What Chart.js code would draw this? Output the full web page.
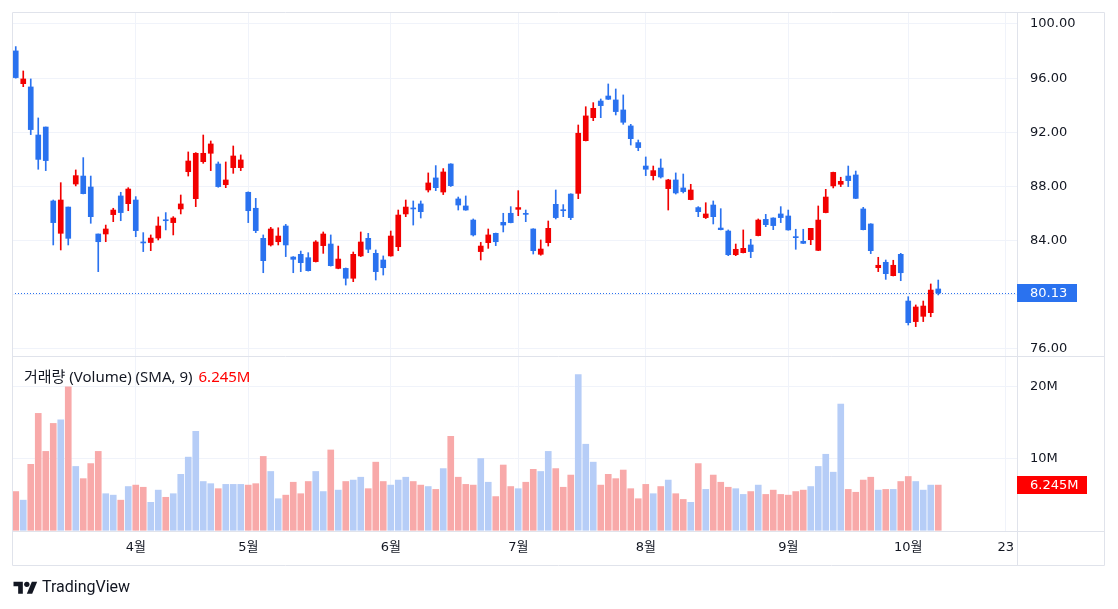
<!DOCTYPE html>
<html lang="ko">
<head>
<meta charset="UTF-8">
<title>주가 차트 – 거래량</title>
<script src="https://cdn.jsdelivr.net/npm/chart.js"></script>
<style>
  body { margin: 0; background: #fff; font-family: "DejaVu Sans", "Noto Sans CJK KR", sans-serif; }
  .wrap { position: relative; width: 1118px; height: 609px; }
  canvas { position: absolute; left: 0; top: 0; }
  .legend { position: absolute; left: 24px; top: 366px; font-family: "Noto Sans", "Noto Sans CJK KR", sans-serif; font-size: 15px; color: #131722; line-height: 21px; }
  .legend .val { color: #f00; margin-left: 6px; }
  .brand { position: absolute; left: 13px; top: 577px; font-family: Roboto, sans-serif; font-size: 16px; color: #131722; display: flex; align-items: center; gap: 4px; }
</style>
</head>
<body>
<div class="wrap">
  <canvas id="chart" width="1118" height="609"></canvas>
  <div class="legend">거래량 (Volume) (SMA, 9)<span class="val">6.245M</span></div>
  <div class="brand">
    <svg width="25" height="16" viewBox="0 0 36 24"><path d="M14 22H7V11H0V4h14v18z" fill="#131722"/><circle cx="20" cy="8" r="4" fill="#131722"/><path d="M28 22h-8l7.5-18h8L28 22z" fill="#131722"/></svg>
    <span>TradingView</span>
  </div>
</div>

<script>
// 일봉 시가/고가/저가/종가
const opens = [98.01,95.59,95.35,91.80,92.39,86.93,84.54,86.48,88.18,88.77,87.96,84.49,84.49,85.92,87.30,86.73,87.00,83.83,83.86,84.19,
  85.47,85.33,86.34,89.09,87.10,89.83,90.45,89.66,88.13,89.39,89.39,87.57,86.39,84.17,83.68,83.92,85.08,82.79,82.99,82.74,
  82.45,83.63,83.75,81.95,81.95,81.22,82.87,84.17,83.06,82.57,82.87,83.55,85.97,86.34,86.71,87.74,88.63,87.59,89.66,87.08,
  86.56,85.52,83.19,83.85,84.54,85.35,86.02,86.31,85.94,84.86,82.99,83.85,86.68,86.21,87.44,87.49,91.38,93.08,94.31,94.68,
  94.39,93.65,92.47,91.24,89.51,88.80,89.36,87.84,88.48,87.89,87.03,86.44,85.70,86.63,84.93,84.71,82.96,83.11,83.68,84.37,
  85.57,85.67,85.97,85.82,84.22,83.95,84.07,83.28,86.07,88.04,88.16,88.77,88.85,86.34,85.23,82.00,82.40,81.41,82.99,79.54,
  78.02,78.41,78.68,80.43];
const highs = [98.33,96.53,95.94,93.06,92.39,87.00,88.28,86.48,89.22,90.13,88.77,84.49,85.15,86.39,87.57,87.91,87.25,84.59,84.42,85.75,
  86.07,85.77,87.37,90.55,90.50,91.80,91.36,89.81,89.81,90.99,90.33,87.60,87.12,84.42,84.98,84.95,85.20,82.82,83.23,83.11,
  84.00,84.64,84.42,83.60,81.98,83.16,84.64,84.54,83.31,82.87,84.71,86.26,87.00,86.93,86.93,89.00,89.54,89.32,89.68,87.22,
  87.30,85.60,83.87,84.86,84.56,86.02,86.51,87.69,86.26,84.88,84.05,85.45,87.74,86.66,87.46,92.54,93.89,94.19,94.46,95.57,
  95.20,94.76,92.59,91.43,90.18,89.51,90.03,88.53,89.00,88.92,88.16,86.51,86.80,86.93,86.36,84.79,83.75,84.79,84.10,85.60,
  85.94,85.69,86.51,86.26,84.84,84.84,84.91,86.56,87.79,89.06,88.68,89.51,89.14,86.46,85.25,82.77,82.57,82.55,83.06,79.86,
  79.25,79.54,80.80,81.09];
const lows = [96.00,95.37,91.83,89.27,89.17,83.68,83.31,83.68,88.04,87.45,85.28,81.71,83.92,85.40,85.47,86.21,84.29,83.19,83.26,84.05,
  84.79,84.42,85.97,88.77,86.51,89.71,89.17,87.94,87.91,88.97,89.17,85.33,84.59,81.63,83.60,83.68,82.82,81.63,81.71,81.75,
  82.42,83.06,82.12,81.92,80.72,80.97,82.82,83.11,81.09,81.46,82.85,83.26,85.77,85.15,85.67,87.59,87.69,87.40,88.00,86.26,
  86.24,84.34,82.57,83.43,83.63,84.64,85.31,85.84,85.40,83.01,82.92,83.60,85.60,85.77,85.55,87.10,91.36,92.86,93.08,94.42,
  93.28,92.59,91.06,90.64,88.80,88.48,88.62,86.26,87.44,87.52,87.01,85.77,85.63,85.23,84.79,82.89,82.89,83.09,82.74,84.35,
  85.03,84.81,85.33,84.77,83.36,83.78,83.70,83.26,86.05,87.89,87.99,87.99,87.10,84.79,83.04,81.71,81.14,81.39,81.04,77.77,
  77.65,78.02,78.38,79.99];
const closes = [96.04,95.94,92.20,90.00,89.91,85.33,87.00,84.17,88.80,87.47,85.77,83.92,84.86,86.26,86.07,87.81,84.74,83.83,84.19,85.08,
  85.47,85.67,86.71,89.88,90.45,90.45,91.14,87.99,88.48,90.25,89.96,86.21,84.74,82.52,84.86,84.34,83.68,82.62,82.37,81.78,
  83.90,84.49,82.15,82.64,81.22,82.99,83.90,83.36,81.71,82.00,84.34,85.89,86.48,86.34,86.14,88.26,87.91,89.07,88.06,86.63,
  86.26,84.42,83.60,84.42,83.92,85.15,85.33,86.44,85.94,83.26,83.38,84.91,85.70,86.21,85.70,91.93,93.21,93.77,93.97,94.44,
  93.53,92.74,91.53,90.87,89.27,89.17,88.70,88.48,87.52,87.62,87.74,86.14,85.97,85.77,84.81,82.96,83.36,83.43,83.19,85.52,
  85.18,85.11,85.70,84.79,84.22,83.80,84.91,85.52,87.22,89.04,88.38,88.43,87.12,84.81,83.26,82.18,81.56,82.18,81.63,77.94,
  79.10,79.17,80.35,80.13];
// 거래량 (백만주)
const volumes = [5.4,4.2,9.2,16.3,11.0,14.9,15.4,20.0,8.9,7.2,9.3,11.0,5.1,4.9,4.2,6.1,6.3,6.0,3.9,5.6,
  4.6,5.1,7.8,10.2,13.8,6.8,6.5,5.8,6.4,6.4,6.4,6.3,6.5,10.3,8.2,4.4,4.9,6.7,5.1,6.8,
  8.2,5.4,11.2,5.6,6.8,7.0,7.4,5.8,9.5,6.8,6.3,7.0,7.4,6.8,6.3,6.1,5.7,8.6,13.1,7.4,
  6.4,6.3,10.0,6.7,4.7,9.1,6.1,5.8,6.7,8.5,8.2,11.0,8.6,6.0,7.7,21.7,12.0,9.5,6.3,7.8,
  7.2,8.4,5.8,4.4,6.4,5.1,6.1,7.0,5.1,4.3,3.9,9.3,5.7,7.7,6.7,6.0,5.8,5.0,5.4,6.3,
  5.0,5.6,5.0,4.9,5.4,5.6,6.1,8.9,10.6,8.1,17.6,5.7,5.3,7.0,7.4,5.6,5.7,5.7,6.8,7.5,
  6.8,5.6,6.3,6.3];

// 시간축: 월 시작 위치 (빈 칸 포함 총 134칸)
const slotCount = 134;
const monthIdx = [16, 31, 50, 67, 84, 103, 119, 132];
const monthLabels = ['4월', '5월', '6월', '7월', '8월', '9월', '10월', '23'];
const priceTicks = [76, 80, 84, 88, 92, 96, 100];
const volumeTicks = [10, 20];
const lastClose = 80.13;
const volumeSma = 6.245;

const FONT = '"DejaVu Sans", "Noto Sans CJK KR", sans-serif';
const RED = '#f20000', BLUE = '#2a72ef';
const VOL_RED = '#f8a9a9', VOL_BLUE = '#b6cdf7';
const GRID = '#f0f3fa', FRAME = '#e0e3eb';

const labels = new Array(slotCount).fill('');
monthIdx.forEach((i, k) => labels[i] = monthLabels[k]);

const isUp = closes.map((c, i) => c > opens[i]);
const candleColors = isUp.map(u => u ? RED : BLUE);
const volColors = isUp.map(u => u ? VOL_BLUE : VOL_RED);

Chart.defaults.font.family = FONT;
Chart.defaults.font.size = 13;
Chart.defaults.color = '#131722';

// 축 라벨 때문에 차트 영역이 줄어들지 않게
const noPad = s => { s.paddingTop = 0; s.paddingBottom = 0; s.paddingLeft = 0; s.paddingRight = 0; };

const overlay = {
  id: 'overlay',
  beforeDatasetsDraw(chart) {
    const { ctx, chartArea: a, scales } = chart;
    const y = Math.round(scales.y.getPixelForValue(lastClose)) + 0.5;
    ctx.save();
    ctx.strokeStyle = BLUE;
    ctx.lineWidth = 1;
    ctx.setLineDash([1, 2]);
    ctx.beginPath();
    ctx.moveTo(a.left, y);
    ctx.lineTo(a.right, y);
    ctx.stroke();
    ctx.restore();
  },
  afterDraw(chart) {
    const { ctx, chartArea: a, scales } = chart;
    const right = chart.width - 14;
    const bottom = a.bottom + 34;
    const paneY = Math.round(scales.y.bottom) + 0.5;
    ctx.save();
    ctx.strokeStyle = FRAME;
    ctx.lineWidth = 1;
    ctx.beginPath();
    ctx.rect(12.5, 12.5, right - 12, bottom - 12);
    ctx.moveTo(Math.round(a.right) + 0.5, 12.5);
    ctx.lineTo(Math.round(a.right) + 0.5, bottom);
    ctx.moveTo(12.5, Math.round(a.bottom) + 0.5);
    ctx.lineTo(right, Math.round(a.bottom) + 0.5);
    ctx.moveTo(12.5, paneY);
    ctx.lineTo(right, paneY);
    ctx.stroke();

    // 현재가 / 거래량 SMA 라벨
    const tag = (yPix, w, color, text) => {
      ctx.fillStyle = color;
      ctx.fillRect(a.right, Math.round(yPix) - 9, w, 18);
      ctx.fillStyle = '#fff';
      ctx.font = '13px ' + FONT;
      ctx.textBaseline = 'middle';
      ctx.textAlign = 'left';
      ctx.fillText(text, a.right + 13, Math.round(yPix) + 0.5);
    };
    tag(scales.y.getPixelForValue(lastClose), 60, BLUE, lastClose.toFixed(2));
    tag(scales.yv.getPixelForValue(volumeSma), 70, '#ff0000', volumeSma.toFixed(3) + 'M');
    ctx.restore();
  }
};

new Chart(document.getElementById('chart'), {
  type: 'bar',
  data: {
    labels,
    datasets: [
      {
        label: 'wick',
        data: lows.map((l, i) => [l, highs[i]]),
        yAxisID: 'y',
        backgroundColor: candleColors,
        barThickness: 1,
        grouped: false
      },
      {
        label: 'body',
        data: opens.map((o, i) => [o, closes[i]]),
        yAxisID: 'y',
        backgroundColor: candleColors,
        barThickness: 5,
        minBarLength: 1,
        grouped: false
      },
      {
        label: 'volume',
        data: volumes,
        yAxisID: 'yv',
        backgroundColor: volColors,
        barThickness: 6,
        grouped: false
      }
    ]
  },
  options: {
    responsive: false,
    animation: false,
    layout: { padding: { left: 12, top: 13, right: 14, bottom: 44 } },
    plugins: { legend: { display: false }, tooltip: { enabled: false } },
    scales: {
      x: {
        offset: true,
        grid: {
          offset: false,
          drawTicks: false,
          color: c => labels[c.index] ? GRID : 'transparent'
        },
        border: { display: false },
        ticks: { autoSkip: false, maxRotation: 0, padding: 9 },
        afterFit: s => { s.height = 34; noPad(s); }
      },
      y: {
        position: 'right',
        stack: 'panes',
        stackWeight: 343,
        min: 75.48,
        max: 100.81,
        grid: { color: GRID, drawTicks: false },
        border: { display: false },
        ticks: { padding: 13, callback: v => v.toFixed(2) },
        afterBuildTicks: s => { s.ticks = priceTicks.map(v => ({ value: v })); },
        afterFit: s => { s.width = 87; noPad(s); }
      },
      yv: {
        position: 'right',
        stack: 'panes',
        stackWeight: 175,
        min: -0.1,
        max: 24.3,
        grid: { color: GRID, drawTicks: false },
        border: { display: false },
        ticks: { padding: 13, callback: v => v + 'M' },
        afterBuildTicks: s => { s.ticks = volumeTicks.map(v => ({ value: v })); },
        afterFit: s => { s.width = 87; noPad(s); }
      }
    }
  },
  plugins: [overlay]
});
</script>
</body>
</html>
